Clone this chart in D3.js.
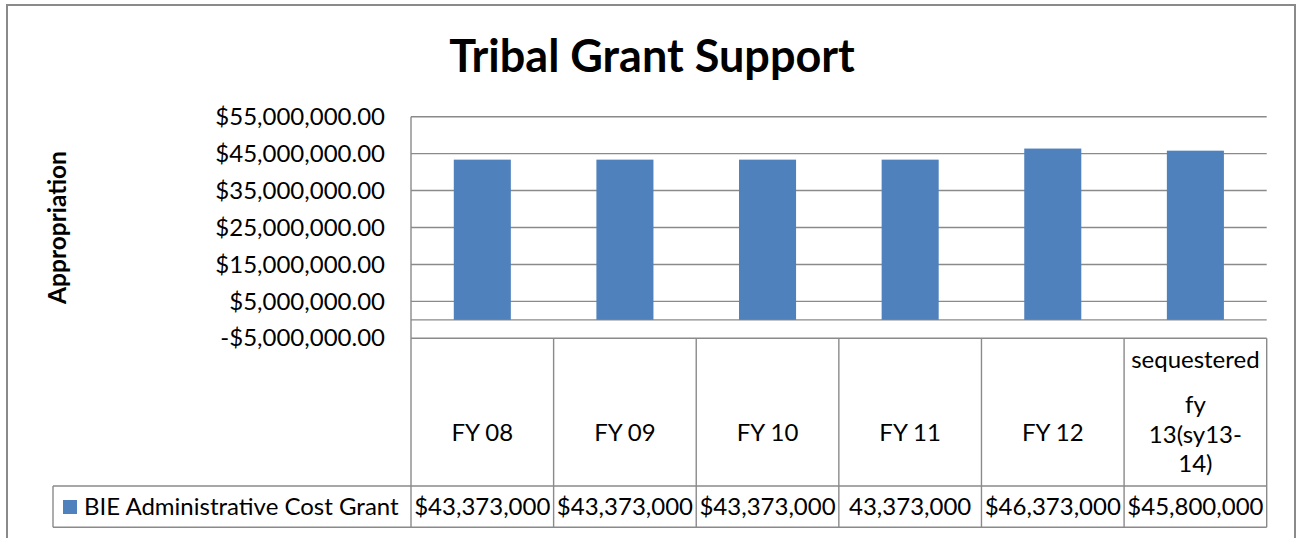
<!DOCTYPE html>
<html>
<head>
<meta charset="utf-8">
<script src="https://cdn.jsdelivr.net/npm/d3@7"></script>
<style>
  body { margin: 0; background: #fff; }
  text { font-family: Lato, "Open Sans", sans-serif; fill: #000; }
</style>
</head>
<body>
<svg id="drawing_region"></svg>
<script>
// chart data
const categories = ["FY 08", "FY 09", "FY 10", "FY 11", "FY 12", "sequestered fy 13(sy13-14)"];
const categoryLines = [["FY 08"], ["FY 09"], ["FY 10"], ["FY 11"], ["FY 12"], ["sequestered", "fy", "13(sy13-", "14)"]];
const seriesName = "BIE Administrative Cost Grant";
const appropriation = [43373000, 43373000, 43373000, 43373000, 46373000, 45800000];
const tableLabels = ["$43,373,000", "$43,373,000", "$43,373,000", "43,373,000", "$46,373,000", "$45,800,000"];
const yTicks = [-5000000, 5000000, 15000000, 25000000, 35000000, 45000000, 55000000];

const W = 1301, H = 538;
const plot = {left: 411, right: 1266.7, top: 116.7, bottom: 338.3};
const table = {legendLeft: 53, headerBottom: 486, rowBottom: 527.3};
const gridColor = '#8a8a8a';
const barColor = '#4f81bd';
const bodySize = '24px';

const svg = d3.select('#drawing_region')
    .attr('width', W)
    .attr('height', H);

// outer chart border
svg.append('path')
    .attr('d', `M7,${H + 5} V5 H1295 V${H + 5}`)
    .attr('fill', 'none')
    .attr('stroke', '#8a8a8a')
    .attr('stroke-width', 2);

svg.append('text')
    .attr('x', 652)
    .attr('y', 71.5)
    .attr('text-anchor', 'middle')
    .attr('font-size', '45px')
    .attr('font-weight', 700)
    .text('Tribal Grant Support');

const yscale = d3.scaleLinear()
    .domain([-5000000, 55000000])
    .range([plot.bottom, plot.top]);

const xscale = d3.scaleBand()
    .domain(categories)
    .range([plot.left, plot.right])
    .paddingInner(0.6)
    .paddingOuter(0.3);

const colscale = d3.scaleBand()
    .domain(categories)
    .range([plot.left, plot.right]);

const locale = d3.formatLocale({decimal: '.', thousands: ',', grouping: [3], currency: ['$', ''], minus: '-'});
const fmt = locale.format('$,.2f');

// gridlines
svg.append('g')
    .selectAll('line')
    .data(yTicks.concat([0]))
    .join('line')
    .attr('x1', plot.left)
    .attr('x2', plot.right)
    .attr('y1', d => yscale(d))
    .attr('y2', d => yscale(d))
    .attr('stroke', gridColor)
    .attr('stroke-width', 1.4);

// y axis
const yaxis = d3.axisLeft(yscale)
    .tickValues(yTicks)
    .tickFormat(fmt)
    .tickSize(0)
    .tickPadding(26);

const yaxis_group = svg.append('g')
    .attr('transform', `translate(${plot.left}, 0)`)
    .call(yaxis);
yaxis_group.select('.domain').remove();
yaxis_group.selectAll('text')
    .attr('font-family', 'Lato, sans-serif')
    .attr('font-size', bodySize)
    .attr('fill', '#000');

svg.append('text')
    .attr('transform', `translate(66, ${(plot.top + plot.bottom) / 2}) rotate(-90)`)
    .attr('text-anchor', 'middle')
    .attr('font-size', '24.5px')
    .attr('font-weight', 700)
    .text('Appropriation');

// bars
svg.append('g')
    .selectAll('rect')
    .data(appropriation)
    .join('rect')
    .attr('x', (d, i) => xscale(categories[i]))
    .attr('y', d => yscale(d))
    .attr('width', xscale.bandwidth())
    .attr('height', d => yscale(0) - yscale(d))
    .attr('fill', barColor);

// data table
const tg = svg.append('g');

tg.selectAll('line.col')
    .data(categories)
    .join('line')
    .attr('class', 'col')
    .attr('x1', d => colscale(d) + colscale.bandwidth())
    .attr('x2', d => colscale(d) + colscale.bandwidth())
    .attr('y1', plot.bottom)
    .attr('y2', table.rowBottom)
    .attr('stroke', gridColor)
    .attr('stroke-width', 1.4);

// left axis line runs through the table
tg.append('line')
    .attr('x1', plot.left).attr('x2', plot.left)
    .attr('y1', plot.top).attr('y2', table.rowBottom)
    .attr('stroke', gridColor)
    .attr('stroke-width', 1.4);

tg.append('line')
    .attr('x1', table.legendLeft).attr('x2', table.legendLeft)
    .attr('y1', table.headerBottom).attr('y2', table.rowBottom)
    .attr('stroke', gridColor)
    .attr('stroke-width', 1.4);

tg.selectAll('line.row')
    .data([table.headerBottom, table.rowBottom])
    .join('line')
    .attr('class', 'row')
    .attr('x1', table.legendLeft)
    .attr('x2', plot.right)
    .attr('y1', d => d)
    .attr('y2', d => d)
    .attr('stroke', gridColor)
    .attr('stroke-width', 1.4);

// category headers
const lineH = 29.5;
tg.selectAll('text.cat')
    .data(categoryLines)
    .join('text')
    .attr('class', 'cat')
    .attr('text-anchor', 'middle')
    .attr('font-size', bodySize)
    .each(function(lines, i) {
        const cx = colscale(categories[i]) + colscale.bandwidth() / 2;
        const n = lines.length;
        d3.select(this).selectAll('tspan')
            .data(lines)
            .join('tspan')
            .attr('x', cx)
            .attr('y', (l, j) => {
                if (n === 1) return 441;
                const base = 472 - (n - 1 - j) * lineH;
                return j === 0 ? base - 16 : base;
            })
            .text(l => l);
    });

// values row
tg.selectAll('text.val')
    .data(tableLabels)
    .join('text')
    .attr('class', 'val')
    .attr('x', (d, i) => colscale(categories[i]) + colscale.bandwidth() / 2)
    .attr('y', 515)
    .attr('text-anchor', 'middle')
    .attr('font-size', bodySize)
    .text(d => d);

// legend key
tg.append('rect')
    .attr('x', 63)
    .attr('y', 500)
    .attr('width', 14)
    .attr('height', 14)
    .attr('fill', barColor);

tg.append('text')
    .attr('x', 84)
    .attr('y', 515)
    .attr('font-size', bodySize)
    .text(seriesName);
</script>
</body>
</html>
